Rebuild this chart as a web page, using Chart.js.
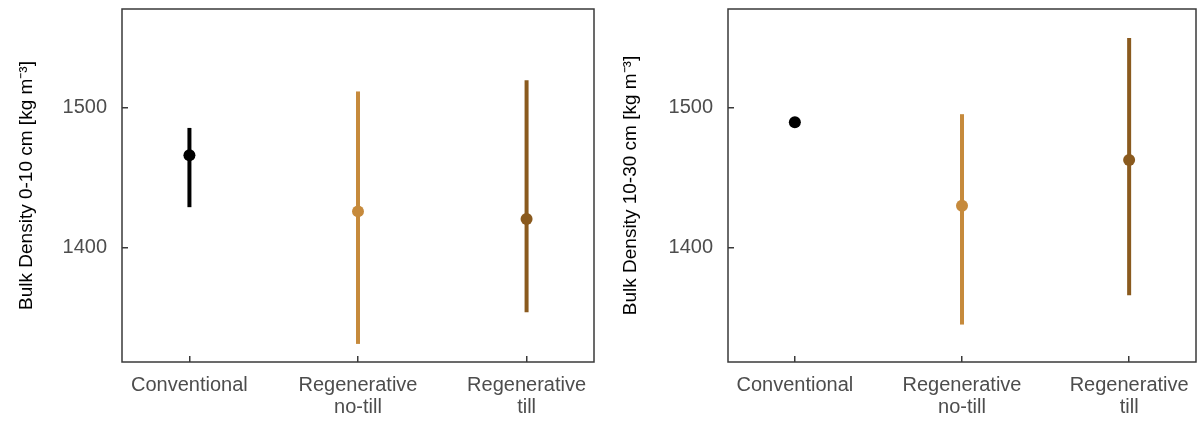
<!DOCTYPE html>
<html>
<head>
<meta charset="utf-8">
<script src="https://cdn.jsdelivr.net/npm/chart.js@4"></script>
<style>
    body { margin: 0; background: #fff; }
    #wrap { position: relative; width: 1202px; height: 423px; }
    #chartLeft { position: absolute; left: 0; top: 0; }
    #chartRight { position: absolute; left: 600px; top: 0; }
</style>
</head>
<body>
<div id="wrap">
    <canvas id="chartLeft" width="600" height="423"></canvas>
    <canvas id="chartRight" width="602" height="423"></canvas>
</div>
<script>
const categories = [['Conventional'], ['Regenerative', 'no-till'], ['Regenerative', 'till']];
const colours = ['#000000', '#C68A3C', '#8A5A1E'];

// 0-10 cm
const mean010 = [1466, 1426, 1420.5];
const low010 = [1429, 1331.5, 1354];
const high010 = [1485.5, 1511.5, 1519.5];

// 10-30 cm
const mean1030 = [1489.6, 1430, 1462.6];
const low1030 = [1488, 1345.3, 1366.2];
const high1030 = [1491, 1495.3, 1549.6];

const yTicks = [1400, 1500];
const yMin = 1318.6;
const yMax = 1570.3;

const frame = {
    id: 'frame',
    afterDraw(chart) {
        const a = chart.chartArea;
        const ctx = chart.ctx;
        ctx.save();
        ctx.strokeStyle = '#3a3a3a';
        ctx.lineWidth = 1.5;
        ctx.strokeRect(a.left, a.top, a.right - a.left, a.bottom - a.top);
        ctx.restore();
    }
};

function makeChart(id, title, means, lows, highs, axisWidth, titlePad) {
    const datasets = [];
    // points first so they sit on top of the bars
    datasets.push({
        type: 'scatter',
        data: means.map((m, i) => ({x: i, y: m})),
        pointRadius: 6,
        pointBackgroundColor: colours,
        pointBorderColor: colours,
        pointBorderWidth: 0
    });
    means.forEach((m, i) => {
        datasets.push({
            type: 'line',
            data: [{x: i, y: lows[i]}, {x: i, y: highs[i]}],
            borderColor: colours[i],
            borderWidth: 4,
            borderCapStyle: 'butt',
            pointRadius: 0,
            fill: false
        });
    });

    const tickFont = {family: '"Liberation Sans", Arial, sans-serif', size: 20};

    new Chart(document.getElementById(id), {
        type: 'scatter',
        data: {datasets: datasets},
        options: {
            responsive: false,
            animation: false,
            devicePixelRatio: 1,
            layout: {padding: {top: 9, right: 6, left: 0, bottom: 0}},
            plugins: {
                legend: {display: false},
                tooltip: {enabled: false}
            },
            scales: {
                x: {
                    type: 'linear',
                    min: -0.4,
                    max: 2.4,
                    afterBuildTicks: s => { s.ticks = categories.map((c, i) => ({value: i})); },
                    afterFit: s => {
                        s.height = 61;
                        s.paddingLeft = 0;
                        s.paddingRight = 0;
                    },
                    border: {display: false},
                    grid: {drawOnChartArea: false, tickLength: -6, color: '#3a3a3a', lineWidth: 1.5},
                    ticks: {
                        callback: v => categories[v],
                        color: '#4d4d4d',
                        font: Object.assign({lineHeight: 1.1}, tickFont),
                        padding: 18,
                        maxRotation: 0
                    }
                },
                y: {
                    min: yMin,
                    max: yMax,
                    afterBuildTicks: s => { s.ticks = yTicks.map(v => ({value: v})); },
                    afterFit: s => {
                        s.width = axisWidth;
                        s.paddingTop = 0;
                        s.paddingBottom = 0;
                    },
                    border: {display: false},
                    grid: {drawOnChartArea: false, tickLength: -6, color: '#3a3a3a', lineWidth: 1.5},
                    ticks: {
                        callback: v => String(v),
                        color: '#4d4d4d',
                        font: tickFont,
                        padding: 21
                    },
                    title: {
                        display: true,
                        text: title,
                        color: '#000000',
                        font: {family: '"Liberation Sans", Arial, sans-serif', size: 19},
                        padding: {top: titlePad, bottom: 0}
                    }
                }
            }
        },
        plugins: [frame]
    });
}

makeChart('chartLeft', 'Bulk Density 0-10 cm [kg m\u207B\u00B3]', mean010, low010, high010, 122, 15);
makeChart('chartRight', 'Bulk Density 10-30 cm [kg m\u207B\u00B3]', mean1030, low1030, high1030, 128, 19);
</script>
</body>
</html>
